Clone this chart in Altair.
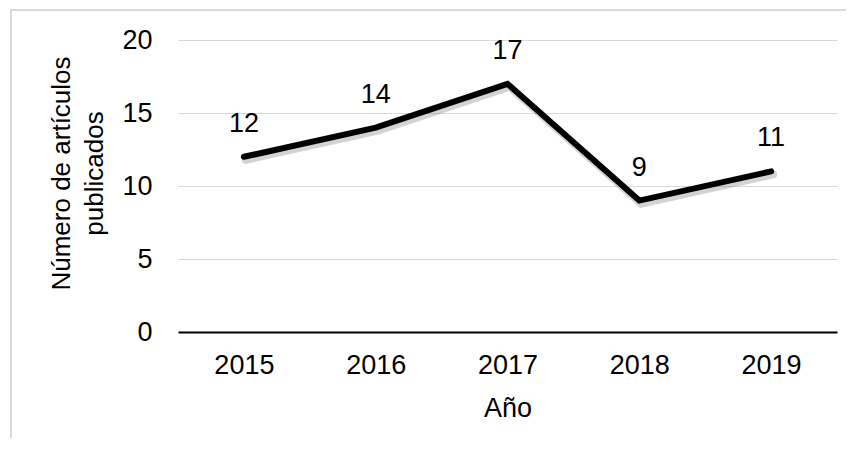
import altair as alt
import pandas as pd

years = ["2015", "2016", "2017", "2018", "2019"]
articles = [12, 14, 17, 9, 11]

df = pd.DataFrame({"Año": years, "n": articles})

FONT = "Liberation Sans"

x = alt.X("Año:N", sort=years,
          scale=alt.Scale(paddingInner=0, paddingOuter=0.5),
          axis=alt.Axis(title="Año", labelAngle=0, ticks=False, tickSize=0,
                        labelPadding=20, titlePadding=17,
                        domainColor="#000000", domainWidth=2,
                        labelFontSize=27, titleFontSize=27,
                        labelFont=FONT, titleFont=FONT,
                        labelColor="#000000", titleColor="#000000",
                        titleFontWeight="normal"))

y = alt.Y("n:Q", scale=alt.Scale(domain=[0, 20]),
          axis=alt.Axis(title=["Número de artículos", "publicados"],
                        values=[0, 5, 10, 15, 20], ticks=False, tickSize=0,
                        domain=False, labelPadding=26,
                        gridColor="#d9d9d9", gridWidth=1,
                        labelFontSize=27, titleFontSize=26,
                        labelFont=FONT, titleFont=FONT,
                        labelColor="#000000", titleColor="#000000",
                        titleFontWeight="normal", titleAngle=270,
                        titleAlign="center", titleBaseline="alphabetic",
                        titleLineHeight=33, titleX=-109, titleY=133))

base = alt.Chart(df)

border = base.mark_rect(fill=None, stroke="#d9d9d9", strokeWidth=1.5, clip=False).encode(
    x=alt.value(-167), x2=alt.value(700), y=alt.value(-30), y2=alt.value(600)
)

shadow = base.mark_line(color="#808080", opacity=0.35, strokeWidth=8,
                        strokeCap="round", xOffset=2, yOffset=3).encode(x=x, y=y)

line = base.mark_line(color="#000000", strokeWidth=6, strokeCap="round").encode(x=x, y=y)

labels = base.mark_text(fontSize=27, font=FONT, color="#000000", dy=-25,
                        baseline="alphabetic", align="center").encode(
    x=x, y=y, text=alt.Text("n:Q"))

chart = alt.layer(border, shadow, line, labels).properties(
    width=659, height=292,
    autosize=alt.AutoSizeParams(type="none"),
    padding={"left": 170, "top": 32, "right": 9, "bottom": 106},
).configure_view(stroke=None)

chart.save("out.html", embed_options={"renderer": "svg", "actions": False})
